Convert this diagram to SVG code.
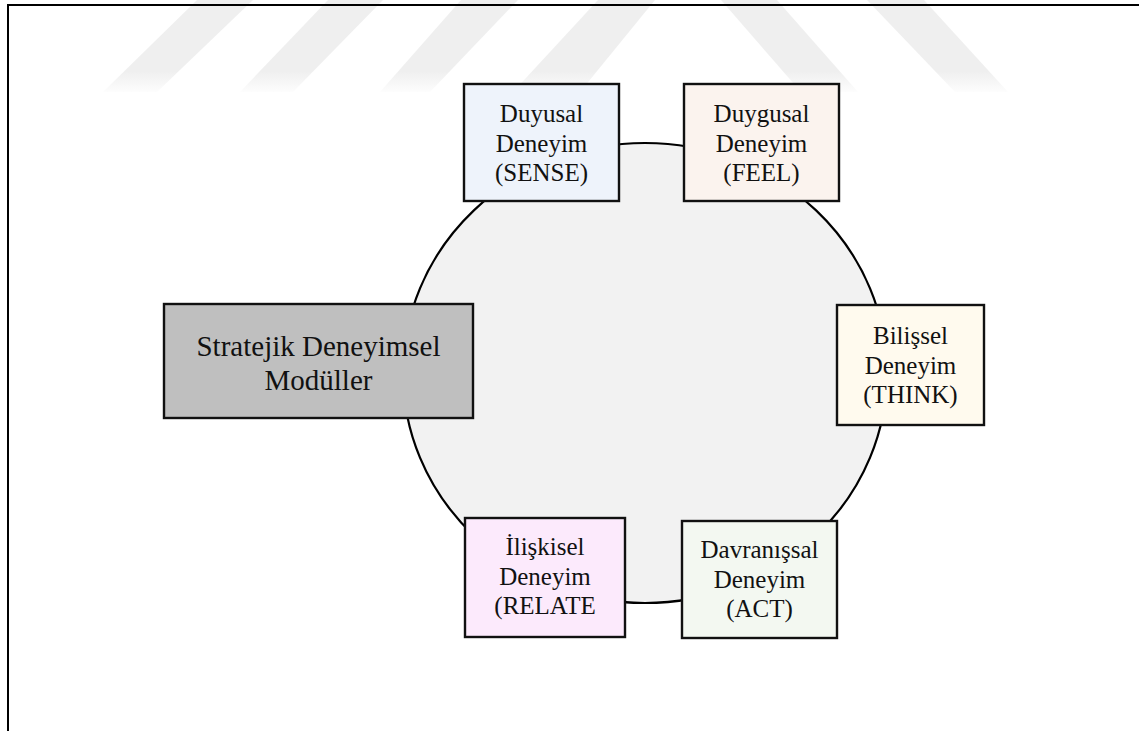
<svg xmlns="http://www.w3.org/2000/svg" width="1139" height="731" viewBox="0 0 1139 731">
  <style>
    .box { stroke: #111; stroke-width: 2.4; }
    .lbl { font-family: "Liberation Serif", "Times New Roman", serif; font-size: 25px; fill: #111; text-anchor: middle; }
    .big { font-size: 29px; }
    .frame { stroke: #000; stroke-width: 2; fill: none; }
  </style>
  <defs>
    <linearGradient id="wm" x1="0" y1="0" x2="0" y2="95" gradientUnits="userSpaceOnUse">
      <stop offset="0" stop-color="#efefef" stop-opacity="1"/>
      <stop offset="0.75" stop-color="#efefef" stop-opacity="1"/>
      <stop offset="1" stop-color="#efefef" stop-opacity="0"/>
    </linearGradient>
  </defs>
  <rect width="1139" height="731" fill="#fff"/>
  <g id="watermark" fill="url(#wm)">
    <polygon points="197,0 253,0 157,92 103,92"/>
    <polygon points="328,0 383,0 293,92 240,92"/>
    <polygon points="461,0 518,0 430,92 380,92"/>
    <polygon points="598,0 655,0 580,92 513,92"/>
    <polygon points="721,0 777,0 858,92 801,92"/>
    <polygon points="867,0 924,0 1008,92 955,92"/>
  </g>
  <g id="frame">
    <line class="frame" x1="7" y1="5" x2="1139" y2="5"/>
    <line class="frame" x1="8" y1="5" x2="8" y2="731"/>
  </g>
  <g id="connectors">
    <ellipse cx="645" cy="373" rx="242" ry="230" fill="#f2f2f2" stroke="#000" stroke-width="2.2"/>
  </g>
  <g id="sense">
    <rect class="box" x="464" y="84" width="155" height="117" fill="#eef3fb"/>
    <text class="lbl" x="541.5" y="122">Duyusal</text>
    <text class="lbl" x="541.5" y="151.5">Deneyim</text>
    <text class="lbl" x="541.5" y="181">(SENSE)</text>
  </g>
  <g id="feel">
    <rect class="box" x="684" y="84" width="155" height="117" fill="#fbf3ee"/>
    <text class="lbl" x="761.5" y="122">Duygusal</text>
    <text class="lbl" x="761.5" y="151.5">Deneyim</text>
    <text class="lbl" x="761.5" y="181">(FEEL)</text>
  </g>
  <g id="sdm">
    <rect class="box" x="164" y="304" width="309" height="114" fill="#bfbfbf"/>
    <text class="lbl big" x="318.5" y="356">Stratejik Deneyimsel</text>
    <text class="lbl big" x="318.5" y="390">Modüller</text>
  </g>
  <g id="think">
    <rect class="box" x="837" y="305" width="147" height="120" fill="#fffaee"/>
    <text class="lbl" x="910.5" y="344">Bilişsel</text>
    <text class="lbl" x="910.5" y="373.5">Deneyim</text>
    <text class="lbl" x="910.5" y="403">(THINK)</text>
  </g>
  <g id="relate">
    <rect class="box" x="465" y="518" width="160" height="119" fill="#fceafc"/>
    <text class="lbl" x="545" y="555">İlişkisel</text>
    <text class="lbl" x="545" y="584.5">Deneyim</text>
    <text class="lbl" x="545" y="614">(RELATE</text>
  </g>
  <g id="act">
    <rect class="box" x="682" y="521" width="155" height="117" fill="#f3f8f1"/>
    <text class="lbl" x="759.5" y="558">Davranışsal</text>
    <text class="lbl" x="759.5" y="587.5">Deneyim</text>
    <text class="lbl" x="759.5" y="617">(ACT)</text>
  </g>
</svg>
